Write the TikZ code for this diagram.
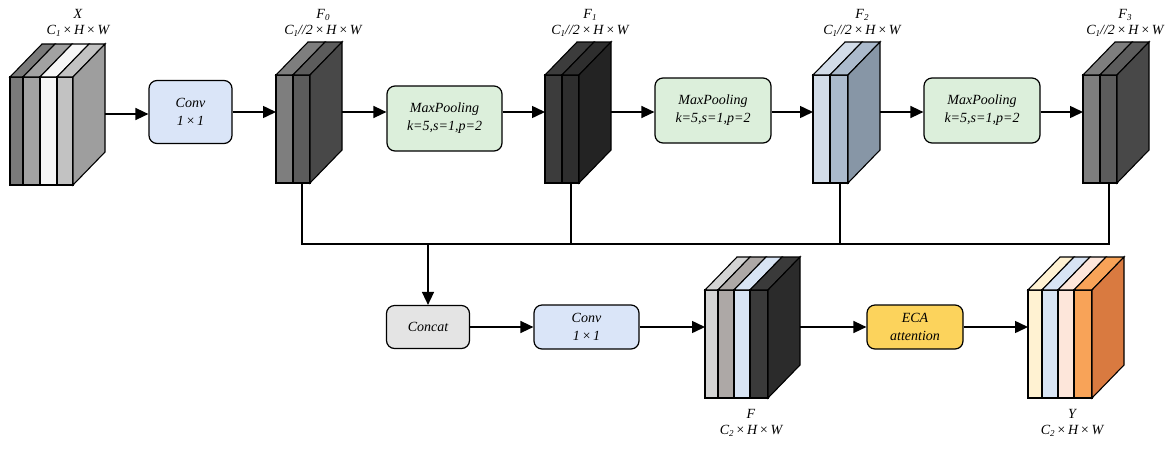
\documentclass[tikz,border=0pt]{standalone}
\usepackage{fontspec}
\setmainfont{Liberation Serif}
\usetikzlibrary{arrows.meta}
\definecolor{xa}{HTML}{7A7A7A}
\definecolor{xb}{HTML}{A2A2A2}
\definecolor{xc}{HTML}{F6F6F6}
\definecolor{xd}{HTML}{C2C2C2}
\definecolor{xside}{HTML}{9E9E9E}
\definecolor{fa}{HTML}{7E7E7E}
\definecolor{fb}{HTML}{5C5C5C}
\definecolor{fside}{HTML}{484848}
\definecolor{ka}{HTML}{3C3C3C}
\definecolor{kb}{HTML}{2E2E2E}
\definecolor{kside}{HTML}{232323}
\definecolor{ba}{HTML}{D2DCE8}
\definecolor{bb}{HTML}{ABBACC}
\definecolor{bside}{HTML}{8796A6}
\definecolor{ca}{HTML}{D4D4D4}
\definecolor{cb}{HTML}{ADA8A6}
\definecolor{cc}{HTML}{D8E4F4}
\definecolor{cd}{HTML}{3A3A3A}
\definecolor{cside}{HTML}{2B2B2B}
\definecolor{ya}{HTML}{FFF2D2}
\definecolor{yb}{HTML}{D8E4F4}
\definecolor{yc}{HTML}{FDE6DA}
\definecolor{yd}{HTML}{F8A358}
\definecolor{yside}{HTML}{D97A40}
\definecolor{convblue}{HTML}{DAE5F8}
\definecolor{poolgreen}{HTML}{DCEFDB}
\definecolor{catgray}{HTML}{E4E4E4}
\definecolor{ecagold}{HTML}{FCD35C}

\newcommand{\lowsub}[1]{\raisebox{-0.35ex}{\fontsize{9}{9}\selectfont #1}}
\newcommand{\tms}{\kern2pt×\kern2pt}
% name, left x, right x, top y, side colour, slices
\newcommand{\featblock}[6]{%
  \foreach \xa/\xb/\col in {#6}{
    \filldraw[fill=\col] (\xa,#4) rectangle (\xb,#4+108);
    \filldraw[fill=\col] (\xa,#4) -- ++(32,-33) -- (\xb+32,#4-33) -- (\xb,#4) -- cycle;
  }
  \filldraw[fill=#5] (#3,#4) -- ++(32,-33) -- ++(0,108) -- (#3,#4+108) -- cycle;
  \coordinate (#1-w) at (#2,#4+37);
  \coordinate (#1-e) at (#3+32,#4+37);
  \coordinate (#1-s) at (#3-8,#4+108);
}

\tikzset{
  op/.style={draw, line width=1.2pt, rounded corners=8pt, align=center, inner sep=0pt,
    font=\fontsize{14}{18}\selectfont\itshape},
  lbl/.style={align=center, font=\fontsize{14}{16}\selectfont\itshape},
  flow/.style={line width=1.5pt, -{Triangle[length=13pt,width=12pt]}},
  wire/.style={line width=1.5pt},
}

\begin{document}
\begin{tikzpicture}[x=1pt,y=-1pt]
  \useasboundingbox (0,0) rectangle (1176,451);

  \begin{scope}[line width=1.1pt]
    \featblock{xin}{10}{73}{77}{xside}{10/23/xa, 23/40/xb, 40/57/xc, 57/73/xd}
    \featblock{f0}{276}{310}{75}{fside}{276/293/fa, 293/310/fb}
    \featblock{f1}{545}{579}{75}{kside}{545/562/ka, 562/579/kb}
    \featblock{f2}{813}{848}{75}{bside}{813/830/ba, 830/848/bb}
    \featblock{f3}{1083}{1117}{75}{fside}{1083/1100/fa, 1100/1117/fb}
    \featblock{fcat}{705}{768}{290}{cside}{705/718/ca, 718/734/cb, 734/750/cc, 750/768/cd}
    \featblock{yout}{1028}{1092}{290}{yside}{1028/1042/ya, 1042/1058/yb, 1058/1074/yc, 1074/1092/yd}
  \end{scope}

  \node[lbl] (xlbl) at (78,23) {X\\C\lowsub{1}\tms H\tms W};
  \node[lbl] (f0lbl) at (323,23) {F\lowsub{0}\\C\lowsub{1}//2\tms H\tms W};
  \node[lbl] (f1lbl) at (590,23) {F\lowsub{1}\\C\lowsub{1}//2\tms H\tms W};
  \node[lbl] (f2lbl) at (862,23) {F\lowsub{2}\\C\lowsub{1}//2\tms H\tms W};
  \node[lbl] (f3lbl) at (1125,23) {F\lowsub{3}\\C\lowsub{1}//2\tms H\tms W};
  \node[lbl] (fcatlbl) at (751,423) {F\\C\lowsub{2}\tms H\tms W};
  \node[lbl] (ylbl) at (1072,423) {Y\\C\lowsub{2}\tms H\tms W};

  \node[op, fill=convblue, minimum width=83pt, minimum height=63pt] (conv1) at (190.5,112) {Conv\\1\tms 1};
  \node[op, fill=poolgreen, minimum width=115pt, minimum height=65pt] (mp1) at (444.5,118.5) {MaxPooling\\k=5,s=1,p=2};
  \node[op, fill=poolgreen, minimum width=116pt, minimum height=65pt] (mp2) at (713,110.5) {MaxPooling\\k=5,s=1,p=2};
  \node[op, fill=poolgreen, minimum width=116pt, minimum height=65pt] (mp3) at (982,110.5) {MaxPooling\\k=5,s=1,p=2};
  \node[op, fill=catgray, minimum width=83pt, minimum height=43pt] (concat) at (428,327) {Concat};
  \node[op, fill=convblue, minimum width=105pt, minimum height=44pt] (conv2) at (586.5,327) {Conv\\1\tms 1};
  \node[op, fill=ecagold, minimum width=96pt, minimum height=44pt] (eca) at (915,327) {ECA\\attention};

  \draw[flow] (xin-e) -- (xin-e -| conv1.west);
  \draw[flow] (conv1) -- (conv1 -| f0-w);
  \draw[flow] (f0-e) -- (f0-e -| mp1.west);
  \draw[flow] (mp1.east |- f1-w) -- (f1-w);
  \draw[flow] (f1-e) -- (f1-e -| mp2.west);
  \draw[flow] (mp2.east |- f2-w) -- (f2-w);
  \draw[flow] (f2-e) -- (f2-e -| mp3.west);
  \draw[flow] (mp3.east |- f3-w) -- (f3-w);

  % gather the four branches
  \path (f0-s) ++(0,61) coordinate (busl);
  \draw[wire] (f0-s) -- (busl) -- (busl -| f3-s) -- (f3-s);
  \draw[wire] (f1-s) -- (f1-s |- busl);
  \draw[wire] (f2-s) -- (f2-s |- busl);
  \draw[flow] (busl -| concat) -- (concat);

  \draw[flow] (concat) -- (conv2);
  \draw[flow] (conv2) -- (conv2 -| fcat-w);
  \draw[flow] (fcat-e) -- (fcat-e -| eca.west);
  \draw[flow] (eca) -- (eca -| yout-w);
\end{tikzpicture}
\end{document}
